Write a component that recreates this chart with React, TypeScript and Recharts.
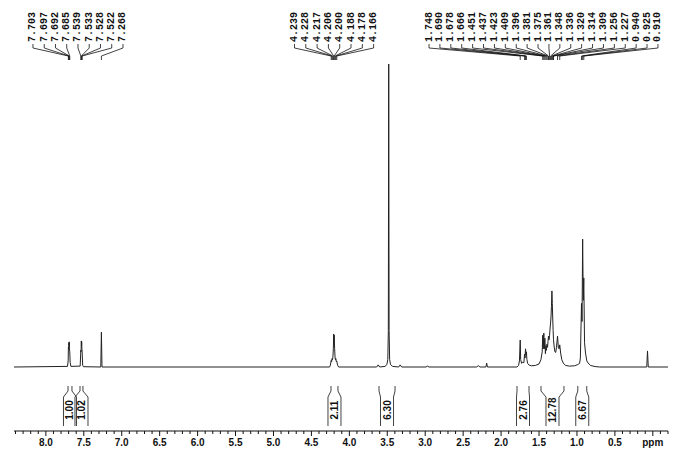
import React from "react";
import { LineChart, Line, XAxis, YAxis, ReferenceLine, ReferenceDot } from "recharts";

type Pt = [number, number];

// spectrum points [ppm, intensity], intensity 100 = the 3.48 singlet
const baseline: Pt[] = [[8.42, 0], [-0.2, 0]];
const aromaticPeaks: Pt[] = [
  [7.715, 0.2], [7.706, 2], [7.703, 6.5], [7.7, 6], [7.697, 8], [7.694, 7], [7.692, 8.3], [7.689, 6], [7.685, 5], [7.68, 1.5], [7.67, 0.2],
  [7.548, 0.3], [7.539, 5.5], [7.536, 5], [7.533, 8.6], [7.53, 7], [7.528, 8.4], [7.525, 6], [7.522, 5], [7.515, 0.6], [7.505, 0.1],
  [7.276, 0], [7.268, 11.5], [7.26, 0],
];
const methylenePeaks: Pt[] = [
  [4.26, 0], [4.25, 0.6], [4.239, 2.2], [4.233, 1.8], [4.228, 2.8], [4.222, 2.4], [4.217, 3.2], [4.211, 6], [4.206, 10.9],
  [4.203, 8], [4.2, 10.5], [4.194, 6], [4.188, 3], [4.183, 2.4], [4.178, 2.8], [4.172, 1.8], [4.166, 2], [4.155, 0.6], [4.14, 0],
];
const methoxyPeaks: Pt[] = [
  [3.64, 0], [3.62, 0.7], [3.6, 0], [3.53, 0.2], [3.505, 0.8], [3.493, 2.5], [3.486, 12], [3.481, 100], [3.476, 12],
  [3.469, 2.5], [3.457, 0.8], [3.43, 0.2], [3.35, 0], [3.33, 0.7], [3.31, 0], [2.99, 0], [2.97, 0.3], [2.95, 0],
  [2.32, 0], [2.3, 0.5], [2.28, 0], [2.2, 0], [2.19, 1.3], [2.18, 0],
];
const alkylPeaks: Pt[] = [
  [1.79, 0], [1.77, 0.5], [1.758, 2], [1.748, 8.9], [1.742, 2.5], [1.73, 1.2], [1.715, 1.6], [1.7, 1.4], [1.69, 4.2], [1.684, 3],
  [1.678, 6], [1.672, 4], [1.666, 5], [1.66, 2.5], [1.65, 1.2], [1.63, 0.6], [1.6, 0.4], [1.55, 0.5], [1.5, 1], [1.475, 2.4],
  [1.458, 5], [1.451, 10.5], [1.444, 6], [1.437, 11.2], [1.43, 6], [1.423, 9.5], [1.416, 4.4], [1.409, 7], [1.402, 5.5],
  [1.396, 7.5], [1.388, 6.5], [1.381, 8.5], [1.375, 10.2], [1.368, 9], [1.361, 10.5], [1.355, 12.5], [1.348, 14.5],
  [1.342, 16.5], [1.336, 20], [1.33, 25.1], [1.325, 21], [1.32, 16.5], [1.314, 12], [1.309, 9], [1.3, 6.6], [1.29, 5],
  [1.28, 4.8], [1.27, 6.5], [1.256, 10.2], [1.245, 6.3], [1.235, 6], [1.227, 7.3], [1.215, 4.6], [1.2, 2.4], [1.18, 1.3],
  [1.15, 0.5], [1.1, 0.3], [1.03, 0.4], [0.99, 0.8], [0.965, 1.2], [0.955, 3], [0.94, 21], [0.933, 15], [0.925, 42.2],
  [0.917, 22], [0.91, 29.4], [0.9, 8], [0.887, 4.6], [0.87, 2], [0.853, 1.3], [0.82, 0.5], [0.76, 0.15], [0.7, 0],
];
const tmsPeak: Pt[] = [[0.08, 0], [0.07, 5.3], [0.06, 0]];

// picked peak labels
const aromaticLabels = [7.703, 7.697, 7.692, 7.685, 7.539, 7.533, 7.528, 7.522, 7.268];
const methyleneLabels = [4.239, 4.228, 4.217, 4.206, 4.2, 4.188, 4.178, 4.166];
const alkylLabels = [1.748, 1.69, 1.678, 1.666, 1.451, 1.437, 1.423, 1.409, 1.396, 1.381, 1.375, 1.361, 1.348, 1.336, 1.32, 1.314, 1.309, 1.256, 1.227, 0.94, 0.925, 0.91];

// integrals
const integralStarts = [7.708, 7.55, 4.242, 3.609, 1.79, 1.474, 0.989];
const integralEnds = [7.656, 7.511, 4.15, 3.398, 1.632, 1.171, 0.871];
const integralValues = ["1.00", "1.02", "2.11", "6.30", "2.76", "12.78", "6.67"];

// axis
const majorTicks = [8, 7.5, 7, 6.5, 6, 5.5, 5, 4.5, 4, 3.5, 3, 2.5, 2, 1.5, 1, 0.5, 0];
const axisTicks = [
  8.4, 8.3, 8.2, 8.1, 8, 7.9, 7.8, 7.7, 7.6, 7.5, 7.4, 7.3, 7.2, 7.1, 7, 6.9, 6.8, 6.7, 6.6, 6.5, 6.4, 6.3, 6.2, 6.1, 6,
  5.9, 5.8, 5.7, 5.6, 5.5, 5.4, 5.3, 5.2, 5.1, 5, 4.9, 4.8, 4.7, 4.6, 4.5, 4.4, 4.3, 4.2, 4.1, 4, 3.9, 3.8, 3.7, 3.6, 3.5,
  3.4, 3.3, 3.2, 3.1, 3, 2.9, 2.8, 2.7, 2.6, 2.5, 2.4, 2.3, 2.2, 2.1, 2, 1.9, 1.8, 1.7, 1.6, 1.5, 1.4, 1.3, 1.2, 1.1, 1,
  0.9, 0.8, 0.7, 0.6, 0.5, 0.4, 0.3, 0.2, 0.1, 0, -0.1, -0.2,
];

const spectrum = [...baseline, ...aromaticPeaks, ...methylenePeaks, ...methoxyPeaks, ...alkylPeaks, ...tmsPeak]
  .sort((a, b) => b[0] - a[0])
  .map(([ppm, i]) => ({ ppm, i }));

// label columns: first column position and spacing, in ppm
const labelGroups = [
  { values: aromaticLabels, start: 8.17, step: 0.1483 },
  { values: methyleneLabels, start: 4.723, step: 0.149 },
  { values: alkylLabels, start: 2.95, step: 0.1437 },
];

const W = 696, H = 452;
const INK = "#111";
const MONO = "'Liberation Mono', 'DejaVu Sans Mono', monospace";
const SANS = "'Liberation Sans', Arial, sans-serif";
const BOX_HALF = 0.0857; // half width of an integral label box, ppm

function PpmTick(props: any) {
  const { x, y, payload } = props;
  const v = Number(payload.value);
  const major = majorTicks.includes(v);
  return <g>
    <line x1={x} x2={x} y1={y} y2={y + (major ? 5 : 3)} stroke={INK} strokeWidth={1}/>
    {major ? <text x={x} y={y + 15} textAnchor="middle" fontSize={10} fontWeight="bold" fontFamily={SANS} fill={INK}>{v === 0 ? "ppm" : v.toFixed(1)}</text> : null}
  </g>;
}

function vText(text: string, font: string, anchor: "start" | "middle") {
  return (p: any) => <text x={p.cx} y={p.cy} transform={`rotate(-90 ${p.cx} ${p.cy})`} textAnchor={anchor}
    dominantBaseline="central" fontSize={10} fontWeight="bold" fontFamily={font} fill={INK}>{text}</text>;
}

function seg(key: string, x1: number, y1: number, x2: number, y2: number) {
  return <ReferenceLine key={key} yAxisId="px" segment={[{ x: x1, y: y1 }, { x: x2, y: y2 }]} stroke={INK} strokeWidth={0.8} ifOverflow="visible"/>;
}

export default function App() {
  const marks: React.ReactNode[] = [];
  labelGroups.forEach((g, gi) => g.values.forEach((v, i) => {
    const lx = g.start - i * g.step;
    const k = `p${gi}-${i}`;
    marks.push(<ReferenceDot key={`${k}t`} yAxisId="px" x={lx} y={42} r={0} ifOverflow="visible" shape={vText(v.toFixed(3), MONO, "start")}/>);
    marks.push(seg(`${k}a`, lx, 44, lx, 48));
    marks.push(seg(`${k}b`, lx, 48, v, 56));
    marks.push(seg(`${k}c`, v, 56, v, 60));
  }));
  integralValues.forEach((label, i) => {
    const a = integralStarts[i], b = integralEnds[i];
    const c = (a + b) / 2;
    const k = `i${i}`;
    marks.push(seg(`${k}a`, a, 386, a, 391));
    marks.push(seg(`${k}b`, a, 391, c + BOX_HALF, 397));
    marks.push(seg(`${k}c`, c + BOX_HALF, 397, c + BOX_HALF, 426));
    marks.push(seg(`${k}d`, b, 386, b, 391));
    marks.push(seg(`${k}e`, b, 391, c - BOX_HALF, 397));
    marks.push(seg(`${k}f`, c - BOX_HALF, 397, c - BOX_HALF, 426));
    marks.push(<ReferenceDot key={`${k}t`} yAxisId="px" x={c} y={410} r={0} ifOverflow="visible" shape={vText(label, SANS, "middle")}/>);
  });

  return <div style={{ position: "absolute", left: 0, top: 0, width: W, height: H, background: "#fff" }}>
    <LineChart width={W} height={H} data={spectrum} margin={{ top: 0, right: 28, bottom: 0, left: 14 }}>
      <XAxis dataKey="ppm" type="number" domain={[-0.2, 8.42]} reversed allowDataOverflow ticks={axisTicks} interval={0}
        tickSize={0} tickMargin={0} tickLine={false} axisLine={{ stroke: INK, strokeWidth: 1 }} tick={<PpmTick/>} height={21}/>
      <YAxis yAxisId="int" type="number" domain={[-21.12, 121.12]} allowDataOverflow hide/>
      <YAxis yAxisId="px" type="number" domain={[0, 431]} reversed allowDataOverflow hide/>
      <Line yAxisId="int" dataKey="i" type="linear" stroke="#222" strokeWidth={1} dot={false} isAnimationActive={false}/>
      {marks}
    </LineChart>
  </div>;
}
